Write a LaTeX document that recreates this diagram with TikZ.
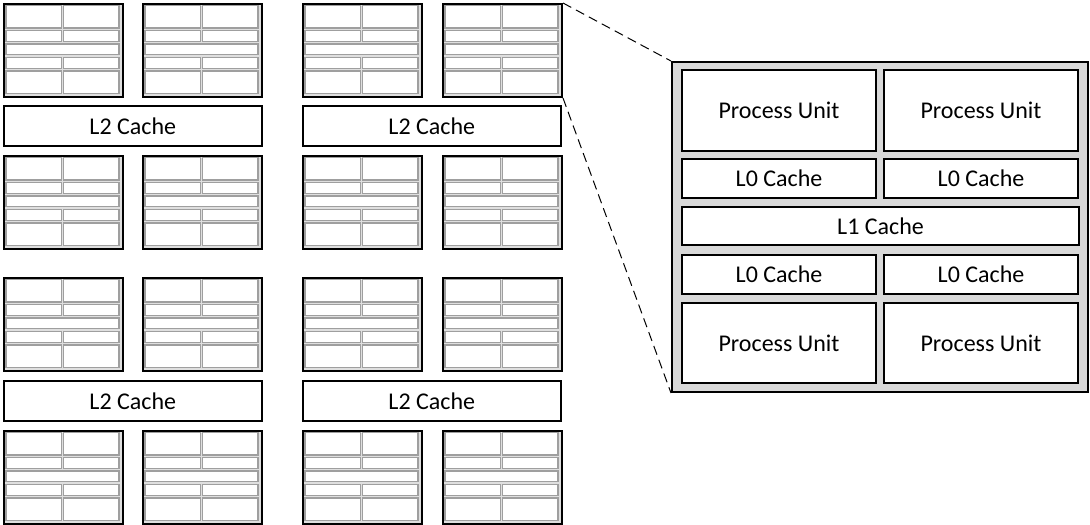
\documentclass[tikz,border=0pt]{standalone}
\usepackage{fontspec}
\setmainfont{Carlito}

\tikzstyle{block} = [draw=black, fill=gray!30, line width=1.5pt, inner sep=0, anchor=north west, minimum width=312pt, minimum height=247.5pt]
\tikzstyle{unit} = [draw=black, fill=white, line width=1.5pt, inner sep=0, anchor=north west, font=\fontsize{18}{22}\selectfont]
\tikzstyle{pu} = [unit, minimum width=145.5pt, minimum height=60.75pt]
\tikzstyle{lzero} = [unit, minimum width=145.5pt, minimum height=29.25pt]
\tikzstyle{lone} = [unit, minimum width=297.75pt, minimum height=28.5pt]
\tikzstyle{ltwo} = [unit, line width=1.2pt, minimum width=193.5pt, minimum height=30pt]
\tikzstyle{tile} = [draw=black, fill=gray!25, line width=1.5pt, inner sep=0, anchor=north west, minimum width=89.25pt, minimum height=69.75pt]
\tikzstyle{cell} = [draw=gray!75, fill=white, line width=1.1pt]
\tikzstyle{zoomline} = [draw=black, line width=0.75pt, dash pattern=on 7pt off 4pt]

% small core: name, x, y
\newcommand{\minicore}[3]{%
\node[tile] (#1) at (#2,#3) {};
\begin{scope}[shift={(#1.north west)}, x=0.2145pt, y=-0.2115pt]
\draw[cell] (10,8) rectangle (204,89);
\draw[cell] (212,8) rectangle (406,89);
\draw[cell] (10,97) rectangle (204,136);
\draw[cell] (212,97) rectangle (406,136);
\draw[cell] (10,145) rectangle (406,183);
\draw[cell] (10,193) rectangle (204,232);
\draw[cell] (212,193) rectangle (406,232);
\draw[cell] (10,241) rectangle (204,321);
\draw[cell] (212,241) rectangle (406,321);
\end{scope}}

\begin{document}
\begin{tikzpicture}[x=0.75pt, y=-0.75pt]
\useasboundingbox (0,0) rectangle (1090,525);

%TOP CLUSTERS
\minicore{c11}{3}{3}
\minicore{c12}{142}{3}
\minicore{c13}{302}{3}
\minicore{c14}{442}{3}

\node[ltwo] (l2a) at (3,105) {L2 Cache};
\node[ltwo] (l2b) at (302,105) {L2 Cache};

\minicore{c21}{3}{155}
\minicore{c22}{142}{155}
\minicore{c23}{302}{155}
\minicore{c24}{442}{155}


%BOTTOM CLUSTERS
\minicore{c31}{3}{277}
\minicore{c32}{142}{277}
\minicore{c33}{302}{277}
\minicore{c34}{442}{277}

\node[ltwo] (l2c) at (3,380) {L2 Cache};
\node[ltwo] (l2d) at (302,380) {L2 Cache};

\minicore{c41}{3}{430}
\minicore{c42}{142}{430}
\minicore{c43}{302}{430}
\minicore{c44}{442}{430}


% ZOOMED CORE
\node[block] (blk) at (671,61) {};

\node[pu] (pu1) at (681,69) {Process Unit};
\node[pu] (pu2) at (883,69) {Process Unit};
\node[lzero] (l0a) at (681,158) {L0 Cache};
\node[lzero] (l0b) at (883,158) {L0 Cache};
\node[lone] (l1) at (681,206) {L1 Cache};
\node[lzero] (l0c) at (681,254) {L0 Cache};
\node[lzero] (l0d) at (883,254) {L0 Cache};
\node[pu, minimum height=60pt] (pu3) at (681,302) {Process Unit};
\node[pu, minimum height=60pt] (pu4) at (883,302) {Process Unit};

\draw[zoomline] (c14.north east) -- (blk.north west);
\draw[zoomline] (c14.south east) -- (blk.south west);
\end{tikzpicture}
\end{document}
